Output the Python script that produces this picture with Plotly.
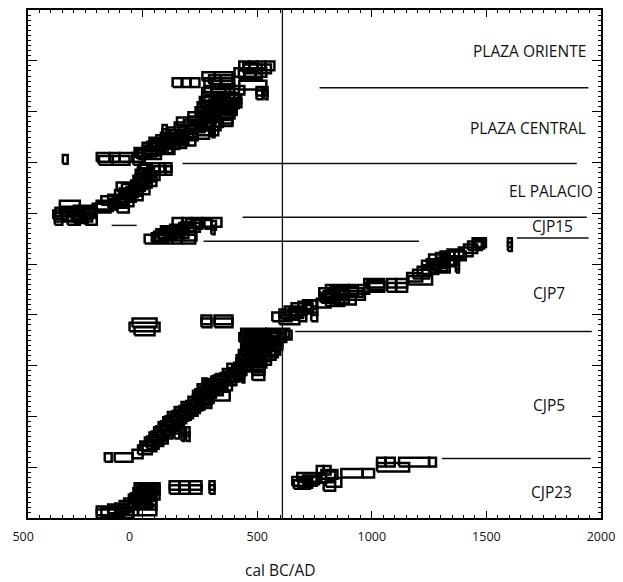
import plotly.graph_objects as go

# ---------------- data: (row level, range start [cal BC/AD], range end) ----------------
plaza_oriente = [
    (8.90, 422, 466), (8.90, 466, 501), (8.90, 501, 536), (8.90, 536, 575),
    (8.87, 440, 500), (8.84, 440, 520), (8.84, 500, 560),
    (8.77, 401, 444), (8.77, 444, 492), (8.77, 492, 540), (8.73, 420, 520),
    (8.69, 261, 314), (8.69, 314, 392),
    (8.63, 290, 340), (8.63, 340, 400),
    (8.57, 131, 170), (8.57, 174, 209), (8.57, 209, 248), (8.57, 270, 300),
    (8.57, 305, 344), (8.57, 344, 392),
    (8.52, 422, 540),
]

plaza_central = [
    (8.45, 300, 400), (8.42, 270, 360), (8.42, 360, 444), (8.40, 497, 523), (8.40, 531, 545),
    (8.38, 260, 380), (8.36, 300, 420), (8.33, 497, 523), (8.33, 531, 545),
    (8.30, 260, 400), (8.28, 330, 420), (8.25, 300, 430), (8.22, 270, 360),
    (8.20, 250, 380), (8.17, 360, 431), (8.15, 290, 420), (8.12, 260, 330),
    (8.10, 240, 350), (8.10, 350, 400), (8.08, 300, 380), (8.05, 280, 410),
    (8.02, 330, 410), (8.00, 231, 340), (7.98, 240, 300),
    (7.95, 260, 401), (7.92, 300, 390), (7.90, 200, 330), (7.88, 250, 330),
    (7.85, 335, 392), (7.85, 240, 320), (7.82, 200, 280),
    (7.80, 150, 260), (7.80, 335, 392), (7.78, 260, 350), (7.75, 180, 300),
    (7.72, 250, 340), (7.68, 200, 270),
    (7.70, 140, 250), (7.70, 300, 314), (7.64, 300, 314), (7.58, 300, 314),
    (7.65, 160, 240), (7.65, 87, 105), (7.57, 87, 105), (7.62, 230, 330),
    (7.60, 110, 200), (7.55, 120, 220), (7.55, 240, 290), (7.52, 150, 240),
    (7.50, 80, 170), (7.47, 100, 180),
    (7.45, 60, 200), (7.42, 130, 230), (7.40, 30, 130), (7.37, 80, 190),
    (7.35, 40, 160), (7.32, 20, 110), (7.30, 0, 100), (7.27, 60, 130),
    (7.25, 10, 139), (7.22, 0, 80), (7.20, -35, 60), (7.17, -30, 40), (7.15, -20, 80),
    (7.10, -200, -144), (7.10, -144, -100), (7.10, -100, -44), (7.10, -44, 0),
    (7.04, -190, -130), (7.04, -130, -57), (7.04, -40, 10),
    (7.06, -348, -327),
]

el_palacio = [
    (6.90, -10, 20), (6.90, 22, 74), (6.90, 74, 96), (6.90, 96, 126),
    (6.87, -20, 40), (6.84, 22, 74), (6.84, 74, 100), (6.84, 100, 126),
    (6.80, -20, 50), (6.77, -30, 30), (6.74, 0, 74), (6.71, 10, 60),
    (6.68, -30, 40), (6.65, -40, 20), (6.62, -10, 60), (6.59, -20, 40),
    (6.56, -50, 20), (6.52, -113, -50), (6.52, -40, 10), (6.49, -90, -30),
    (6.46, -60, 30), (6.43, -70, 0),
    (6.40, -100, -20), (6.37, -120, -40), (6.34, -80, 0), (6.31, -100, -30),
    (6.28, -150, -60), (6.25, -180, -100), (6.22, -130, -40), (6.19, -150, -70),
    (6.16, -200, -110), (6.16, -361, -274), (6.13, -200, -130),
    (6.10, -218, -140), (6.10, -110, -60),
    (6.06, -300, -200), (6.04, -360, -280), (6.02, -380, -320), (6.02, -320, -250),
    (6.02, -250, -200), (5.99, -270, -210),
    (5.97, -390, -330), (5.97, -310, -230), (5.94, -350, -260),
    (5.92, -383, -300), (5.92, -300, -220), (5.89, -300, -240),
    (5.86, -383, -350), (5.86, -327, -274), (5.86, -250, -200),
]

cjp15 = [
    (5.82, 131, 174), (5.82, 174, 213), (5.82, 213, 261), (5.82, 261, 344),
    (5.80, 190, 250), (5.78, 220, 260), (5.78, 270, 300), (5.76, 300, 320),
    (5.74, 170, 230), (5.72, 190, 250), (5.72, 160, 200), (5.69, 120, 200),
    (5.66, 80, 150), (5.66, 150, 230), (5.67, 300, 314), (5.63, 90, 170),
    (5.60, 60, 140), (5.60, 140, 200), (5.57, 70, 150),
    (5.55, 50, 120), (5.55, 120, 180), (5.55, 180, 235), (5.52, 40, 110),
    (5.49, 9, 52), (5.49, 52, 131), (5.49, 131, 170), (5.49, 170, 230),
]

cjp7 = [
    (5.42, 1440, 1498), (5.42, 1594, 1611), (5.39, 1450, 1490), (5.36, 1420, 1480),
    (5.34, 1594, 1611), (5.30, 1402, 1460), (5.24, 1380, 1440), (5.20, 1330, 1400),
    (5.16, 1300, 1360), (5.16, 1360, 1410), (5.13, 1280, 1340), (5.10, 1250, 1330),
    (5.07, 1310, 1380), (5.04, 1280, 1360), (5.01, 1240, 1320),
    (4.98, 1219, 1300), (4.98, 1367, 1380), (4.95, 1270, 1330),
    (4.92, 1250, 1340), (4.92, 1367, 1380), (4.89, 1220, 1290),
    (4.86, 1200, 1260), (4.80, 1180, 1250), (4.74, 1154, 1220), (4.68, 1160, 1263),
    (4.62, 967, 1054), (4.62, 1067, 1106), (4.62, 1106, 1154), (4.58, 980, 1054),
    (4.54, 967, 1054), (4.54, 1067, 1106), (4.54, 1106, 1154),
    (4.50, 800, 900), (4.50, 900, 989), (4.47, 820, 940), (4.44, 771, 880),
    (4.44, 880, 960), (4.41, 800, 900),
    (4.38, 790, 860), (4.38, 860, 970), (4.35, 771, 860), (4.32, 780, 900),
    (4.29, 830, 930), (4.26, 800, 880), (4.23, 760, 820),
    (4.20, 700, 760), (4.20, 736, 762), (4.17, 680, 740), (4.14, 650, 740),
    (4.11, 700, 740), (4.08, 620, 714), (4.08, 736, 762), (4.05, 640, 700),
    (4.02, 597, 700), (3.99, 610, 670), (3.96, 566, 650), (3.96, 680, 714),
    (3.96, 736, 762), (3.90, 597, 684),
    (3.90, 257, 300), (3.90, 314, 392), (3.84, 257, 300), (3.84, 314, 392),
    (3.84, -44, 61), (3.76, -57, 74), (3.68, -35, 52),
]

cjp5 = [
    (3.64, 430, 540), (3.64, 540, 640), (3.62, 470, 590), (3.60, 440, 600),
    (3.60, 610, 650), (3.57, 500, 620),
    (3.55, 422, 560), (3.55, 560, 627), (3.52, 440, 560), (3.50, 450, 600),
    (3.47, 500, 610), (3.45, 431, 580), (3.42, 450, 560),
    (3.40, 470, 610), (3.37, 500, 600), (3.35, 440, 560), (3.32, 430, 520),
    (3.30, 470, 600), (3.27, 480, 580), (3.25, 430, 540),
    (3.25, 540, 590), (3.22, 420, 500), (3.20, 450, 580), (3.17, 480, 560),
    (3.15, 420, 530), (3.12, 410, 490), (3.10, 440, 560), (3.07, 450, 520),
    (3.05, 409, 500), (3.05, 500, 540), (3.00, 420, 480), (3.00, 479, 531),
    (2.97, 400, 470),
    (2.95, 370, 450), (2.95, 479, 531), (2.90, 390, 453), (2.90, 479, 531),
    (2.90, 431, 444), (2.87, 380, 440), (2.85, 350, 420), (2.85, 431, 444),
    (2.80, 360, 440), (2.80, 479, 531), (2.77, 340, 420), (2.75, 320, 400),
    (2.75, 431, 444), (2.72, 310, 380), (2.70, 300, 409),
    (2.66, 261, 279), (2.65, 270, 370), (2.62, 280, 360), (2.60, 290, 390),
    (2.56, 261, 279), (2.55, 240, 340), (2.52, 260, 330), (2.50, 250, 350),
    (2.45, 230, 320), (2.42, 220, 300), (2.40, 240, 300),
    (2.40, 300, 380), (2.35, 220, 310), (2.32, 230, 300), (2.30, 200, 290),
    (2.25, 210, 300), (2.22, 190, 270),
    (2.20, 170, 260), (2.15, 180, 250), (2.12, 160, 230), (2.10, 140, 240),
    (2.05, 150, 220), (2.02, 130, 210),
    (2.00, 110, 200), (1.95, 120, 190), (1.92, 100, 170), (1.90, 90, 180),
    (1.85, 100, 170), (1.82, 80, 150),
    (1.80, 70, 160), (1.75, 80, 140), (1.75, 139, 160), (1.72, 60, 120), (1.70, 50, 120),
    (1.70, 170, 182), (1.70, 190, 205), (1.65, 60, 130), (1.65, 139, 160),
    (1.62, 40, 100), (1.60, 30, 100), (1.60, 170, 182), (1.60, 190, 205), (1.55, 40, 110),
    (1.52, 20, 80), (1.50, 10, 90), (1.45, 20, 70), (1.42, -10, 50), (1.40, 0, 60),
    (1.34, -20, 40), (1.26, -44, 0), (1.19, -165, -135), (1.19, -122, -44),
]

cjp23 = [
    (0.60, -35, 74), (0.58, -20, 60), (0.55, -30, 60), (0.55, 60, 74), (0.50, -40, 50),
    (0.48, -30, 60), (0.45, -20, 74), (0.40, -50, 40), (0.38, -60, 30),
    (0.35, -44, 60), (0.30, -80, 20), (0.28, -60, 40),
    (0.25, -100, -20), (0.25, -20, 60), (0.20, -120, -40), (0.18, -150, -60),
    (0.14, -200, -150), (0.14, -150, -100), (0.14, -100, -20), (0.14, -20, 60),
    (0.11, -180, -80), (0.08, -200, -113), (0.08, -113, -40),
    (0.64, 118, 161), (0.64, 161, 205), (0.64, 205, 257),
    (0.56, 118, 161), (0.56, 161, 205), (0.56, 205, 257),
    (0.64, 292, 314), (0.56, 292, 314),
    (0.80, 675, 780), (0.75, 700, 770), (0.72, 653, 760), (0.68, 680, 740),
    (0.66, 660, 730),
    (0.94, 760, 790), (0.94, 790, 820), (0.86, 780, 850), (0.83, 800, 840),
    (0.78, 760, 800), (0.70, 800, 867), (0.62, 790, 840),
    (0.88, 867, 960), (0.88, 960, 1010),
    (1.10, 1023, 1060), (1.10, 1060, 1100), (1.00, 1023, 1163),
    (1.10, 1119, 1250), (1.10, 1250, 1280),
]

groups = {
    "PLAZA ORIENTE": plaza_oriente, "PLAZA CENTRAL": plaza_central,
    "EL PALACIO": el_palacio, "CJP15": cjp15, "CJP7": cjp7,
    "CJP5": cjp5, "CJP23": cjp23,
}

# section separator lines: level, start, end
separator_level = [8.47, 6.98, 5.92, 5.45, 5.51, 3.67, 1.17, 5.76]
separator_start = [772, 174, 436, 266, 1633, 666, 1306, -135]
separator_end = [1945, 1894, 1938, 1206, 1946, 1960, 1955, -26]

vertical_line_year = 610

# group labels: text, x (year), level, anchor
label_text = ["PLAZA ORIENTE", "PLAZA CENTRAL", "EL PALACIO", "CJP15", "CJP7", "CJP5", "CJP23"]
label_x = [1945, 1945, 1975, 1790, 1775, 1775, 1785]
label_level = [9.2, 7.68, 6.43, 5.75, 4.42, 2.22, 0.52]
label_anchor = ["right", "right", "right", "center", "center", "center", "center"]

tick_vals = [-500, 0, 500, 1000, 1500, 2000]
tick_text = ["500\u00a0\u00a0\u00a0", "0" + "\u00a0" * 8, "500", "1000", "1500", "2000"]

BOX_HALF = 0.085

fig = go.Figure()

for name, rows in groups.items():
    xs, ys = [], []
    for lev, a, b in rows:
        xs += [a, b, b, a, a, None]
        ys += [lev - BOX_HALF, lev - BOX_HALF, lev + BOX_HALF, lev + BOX_HALF, lev - BOX_HALF, None]
    fig.add_trace(go.Scatter(x=xs, y=ys, mode="lines", name=name,
                             line=dict(color="black", width=2.5),
                             hoverinfo="skip", showlegend=False))

sx, sy = [], []
for lev, a, b in zip(separator_level, separator_start, separator_end):
    sx += [a, b, None]
    sy += [lev, lev, None]
fig.add_trace(go.Scatter(x=sx, y=sy, mode="lines", line=dict(color="#111", width=1.5),
                         hoverinfo="skip", showlegend=False))

fig.add_trace(go.Scatter(x=[vertical_line_year, vertical_line_year], y=[0, 10], mode="lines",
                         line=dict(color="#111", width=1.3), hoverinfo="skip", showlegend=False))

for t, x, lev, anc in zip(label_text, label_x, label_level, label_anchor):
    fig.add_annotation(x=x, y=lev, text=t, showarrow=False, xanchor=anc, yanchor="middle",
                       font=dict(family="Open Sans", size=15.5, color="#111"))

fig.add_annotation(xref="paper", yref="paper", x=0.439, y=-0.102, text="cal BC/AD",
                   showarrow=False, xanchor="center", yanchor="middle",
                   font=dict(family="Open Sans", size=15.5, color="#111"))

fig.update_layout(
    width=623, height=582,
    margin=dict(l=28, r=21, t=8, b=64),
    plot_bgcolor="white", paper_bgcolor="white",
    font=dict(family="Open Sans", size=12, color="#222"),
    xaxis=dict(range=[-500, 2000], tickmode="array", tickvals=tick_vals, ticktext=tick_text,
               ticks="inside", ticklen=7, tickwidth=1, tickcolor="black",
               showline=True, linecolor="black", linewidth=1.5, mirror="ticks",
               showgrid=False, zeroline=False, ticklabelstandoff=6,
               tickfont=dict(family="Open Sans", size=12.5, color="#111"),
               minor=dict(dtick=50, tick0=0, ticks="inside", ticklen=3, tickcolor="black",
                          showgrid=False)),
    yaxis=dict(range=[0, 10], tickmode="linear", tick0=0, dtick=1, showticklabels=False,
               ticks="inside", ticklen=9, tickwidth=1, tickcolor="black",
               showline=True, linecolor="black", linewidth=1.5, mirror="ticks",
               showgrid=False, zeroline=False,
               minor=dict(dtick=0.1, ticks="inside", ticklen=3, tickcolor="black",
                          showgrid=False)),
)

fig.write_html("out.html", config={"displayModeBar": False},
               post_script="document.body.style.margin='0';document.body.style.overflow='hidden';")
